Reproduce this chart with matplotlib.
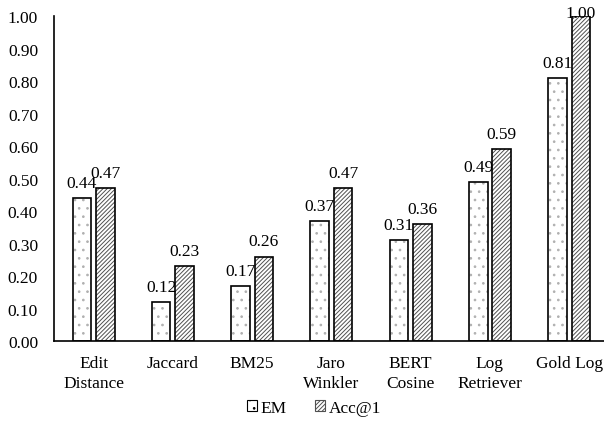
import matplotlib
matplotlib.use("Agg")
import matplotlib.pyplot as plt
import numpy as np
from matplotlib.patches import Patch

plt.rcParams['font.family'] = ['Liberation Serif', 'DejaVu Serif']
plt.rcParams['hatch.linewidth'] = 0.7

categories = ["Edit\nDistance", "Jaccard", "BM25", "Jaro\nWinkler", "BERT\nCosine", "Log\nRetriever", "Gold Log"]
em = [0.44, 0.12, 0.17, 0.37, 0.31, 0.49, 0.81]
acc = [0.47, 0.23, 0.26, 0.47, 0.36, 0.59, 1.00]
yticks = [0.0, 0.1, 0.2, 0.3, 0.4, 0.5, 0.6, 0.7, 0.8, 0.9, 1.0]

FS = 12.5
fig = plt.figure(figsize=(6.04, 4.27), dpi=100)
ax = fig.add_axes([0.0894, 0.199, 1.008 - 0.0894, 0.960 - 0.199])

x = np.arange(len(categories))
w = 0.235
off = 0.148

# hatch layers
ax.bar(x - off, em, w, color='white', edgecolor='#b0b0b0', hatch='..', linewidth=0)
ax.bar(x + off, acc, w, color='white', edgecolor='#505050', hatch='////////', linewidth=0)
# outlines
ax.bar(x - off, em, w, fill=False, edgecolor='black', linewidth=1.2)
ax.bar(x + off, acc, w, fill=False, edgecolor='black', linewidth=1.2)

for xi, v in zip(x - off, em):
    ax.annotate(f"{v:.2f}", (xi, v), xytext=(0, 8), textcoords='offset points',
                ha='center', va='baseline', fontsize=FS)
for xi, v in zip(x + off, acc):
    dy = 8 if v < 0.95 else -1
    ax.annotate(f"{v:.2f}", (xi, v), xytext=(0, dy), textcoords='offset points',
                ha='center', va='baseline', fontsize=FS, annotation_clip=False)

ax.set_xlim(-0.5, len(categories) - 0.5)
ax.set_ylim(0, 1.0)
ax.set_yticks(yticks)
ax.set_yticklabels([f"{t:.2f}" for t in yticks], fontsize=FS)
ax.set_xticks(x)
ax.set_xticklabels(categories, fontsize=FS, linespacing=1.3)
ax.tick_params(axis='both', length=0)
ax.tick_params(axis='y', pad=11.5)
ax.tick_params(axis='x', pad=10)
for s in ['top', 'right']:
    ax.spines[s].set_visible(False)
ax.spines['left'].set_linewidth(1.2)
ax.spines['bottom'].set_linewidth(1.2)

handles = [Patch(facecolor='white', edgecolor='black', hatch='..', linewidth=0.8, label='EM'),
           Patch(facecolor='white', edgecolor='#505050', hatch='////////', linewidth=0.8, label='Acc@1')]
fig.legend(handles=handles, loc='center', bbox_to_anchor=(0.52, 1 - 409 / 427), ncol=2,
           frameon=False, fontsize=FS, handlelength=0.6, handleheight=0.6,
           handletextpad=0.2, columnspacing=1.6)

fig.savefig("out.png", dpi=100)
